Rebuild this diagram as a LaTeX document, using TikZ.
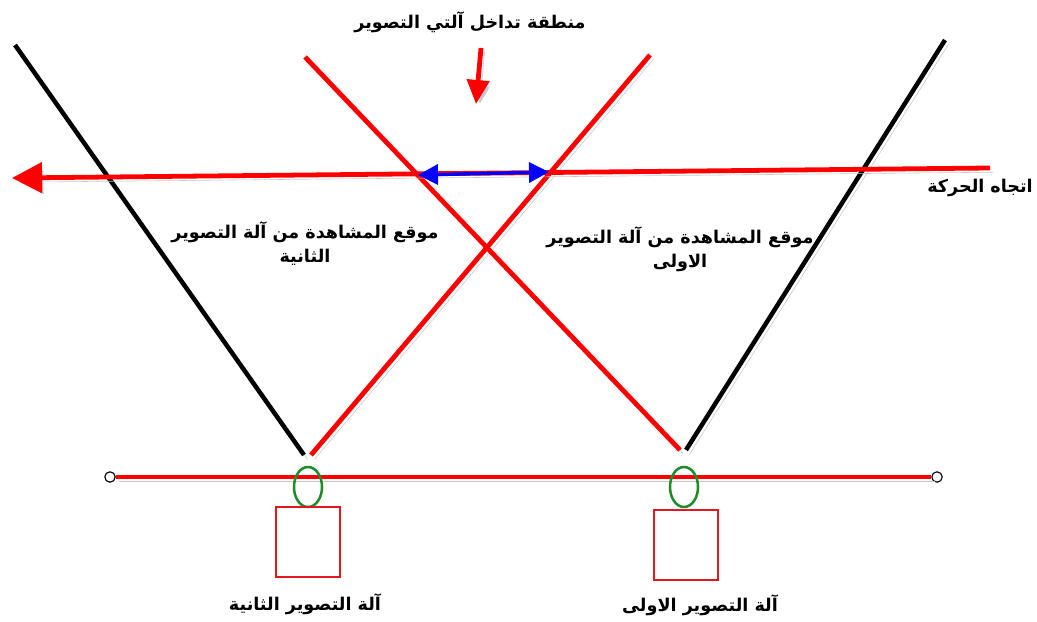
\documentclass[tikz,border=0pt]{standalone}
\usepackage{fontspec}
\usepackage{tikz}
\usetikzlibrary{shapes.geometric, arrows.meta}
\TeXXeTstate=1
\newfontfamily\arabicfont[Script=Arabic]{DejaVu Sans}
\definecolor{camgreen}{RGB}{30,140,40}
\definecolor{camred}{RGB}{225,25,30}
\tikzstyle{shadowed} = [preaction={draw=black!22, transform canvas={xshift=2.5pt, yshift=-3pt}}]
\tikzstyle{redline} = [draw=red, line width=3.4pt, shadowed]
\tikzstyle{blackline} = [draw=black, line width=3.2pt, shadowed]
\tikzstyle{lens} = [ellipse, draw=camgreen, line width=1.8pt, minimum width=0.7cm, minimum height=1cm, inner sep=0pt]
\tikzstyle{camera} = [rectangle, draw=camred, line width=1.6pt, minimum width=1.6cm, minimum height=1.75cm, inner sep=0pt]
\tikzstyle{label} = [font=\arabicfont\bfseries\fontsize{12.5}{17}\selectfont, align=center, inner sep=1pt]
\tikzstyle{endpt} = [circle, draw=black, fill=white, line width=0.8pt, minimum size=0.26cm, inner sep=0pt]
\tikzstyle{arrow} = [-{Triangle[length=0.75cm, width=0.75cm]}]

\begin{document}
\begin{tikzpicture}[x=0.025cm, y=-0.025cm]
\useasboundingbox (0,0) rectangle (1037,622);

% viewing lines of the two cameras
\coordinate (blacktopl) at (15,45);
\coordinate (blackbotl) at (304,455);
\coordinate (redtopr) at (650,55);
\coordinate (redbotl) at (311,455);
\coordinate (redtopl) at (305,57);
\coordinate (redbotr) at (680,450);
\coordinate (blacktopr) at (945,40);
\coordinate (blackbotr) at (686,450);
\draw[blackline] (blacktopl) -- (blackbotl);
\draw[redline] (redbotl) -- (redtopr);
\draw[redline] (redtopl) -- (redbotr);
\draw[blackline] (blackbotr) -- (blacktopr);

% direction of motion
\coordinate (movestart) at (990,168);
\coordinate (moveend) at (12,178);
\draw[redline, arrow] (movestart) -- (moveend);
\coordinate (overlapl) at (418,175);
\coordinate (overlapr) at (549,172);
\draw[draw=blue, line width=2.4pt, {Triangle[length=0.5cm, width=0.5cm]}-{Triangle[length=0.5cm, width=0.5cm]}] (overlapl) -- (overlapr);

% base line
\node (basel) [endpt] at (110,477) {};
\node (baser) [endpt] at (937,477) {};
\draw[redline] (basel) -- (baser);
\node (lens2) [lens] at (308,487) {};
\node (lens1) [lens] at (684,487) {};
\node (cam2) [camera] at (308,542) {};
\node (cam1) [camera] at (686,545) {};

% labels
\node (overlap) [label] at (470,22) {\beginR منطقة تداخل آلتي التصوير\endR};
\coordinate (downtop) at (481,48);
\coordinate (downbot) at (476,104);
\draw[redline, -{Triangle[length=0.6cm, width=0.55cm]}] (downtop) -- (downbot);
\node (view2) [label] at (305,244) {\beginR موقع المشاهدة من آلة التصوير\endR\\\beginR الثانية\endR};
\node (view1) [label] at (680,249) {\beginR موقع المشاهدة من آلة التصوير\endR\\\beginR الاولى\endR};
\node (motion) [label] at (980,188) {\beginR اتجاه الحركة\endR};
\node (cam2lbl) [label] at (305,604) {\beginR آلة التصوير الثانية\endR};
\node (cam1lbl) [label] at (700,605) {\beginR آلة التصوير الاولى\endR};

\end{tikzpicture}
\end{document}
